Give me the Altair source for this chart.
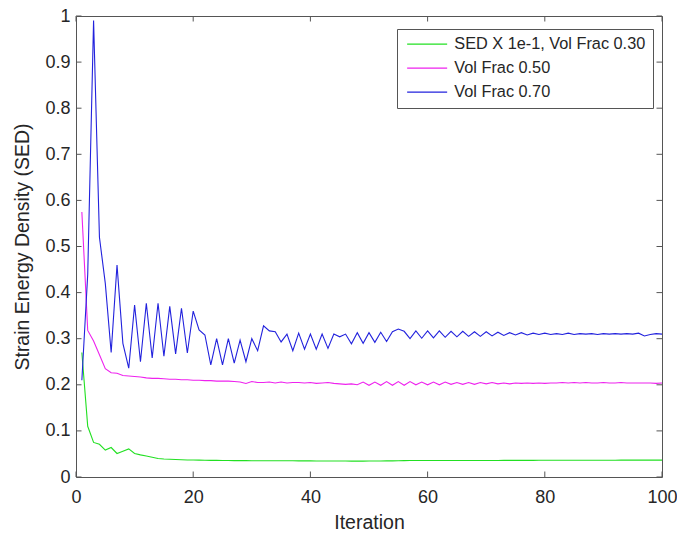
import altair as alt
import pandas as pd

iterations = list(range(1, 101))

sed_vf030 = [
    0.27, 0.11, 0.075, 0.071, 0.0585, 0.064, 0.051, 0.056, 0.061, 0.051,
    0.048, 0.0455, 0.043, 0.040, 0.039, 0.0385, 0.038, 0.0375, 0.037, 0.0368,
    0.0365, 0.0362, 0.036, 0.036, 0.0358, 0.0357, 0.0356, 0.0355, 0.0355, 0.0354,
    0.0354, 0.0353, 0.0353, 0.0352, 0.0352, 0.0351, 0.0351, 0.035, 0.035, 0.0349,
    0.0348, 0.0347, 0.0347, 0.0346, 0.0346, 0.0346, 0.0345, 0.0345, 0.0345, 0.0346,
    0.0347, 0.0348, 0.0349, 0.035, 0.0353, 0.0356, 0.0357, 0.0357, 0.0357, 0.0357,
    0.0357, 0.0357, 0.0358, 0.0358, 0.0358, 0.0358, 0.0358, 0.0358, 0.0358, 0.0359,
    0.0359, 0.0359, 0.036, 0.036, 0.036, 0.0361, 0.0361, 0.0361, 0.0362, 0.0362,
    0.0362, 0.0362, 0.0362, 0.0363, 0.0363, 0.0363, 0.0363, 0.0364, 0.0364, 0.0364,
    0.0364, 0.0364, 0.0365, 0.0365, 0.0365, 0.0365, 0.0366, 0.0366, 0.0366, 0.0366,
]

vf050 = [
    0.575, 0.318, 0.295, 0.265, 0.235, 0.226, 0.225, 0.220, 0.219, 0.218,
    0.217, 0.215, 0.214, 0.214, 0.213, 0.212, 0.212, 0.211, 0.211, 0.210,
    0.210, 0.209, 0.209, 0.208, 0.208, 0.208, 0.207, 0.206, 0.203, 0.207,
    0.205, 0.205, 0.206, 0.204, 0.206, 0.204, 0.205, 0.205, 0.204, 0.205,
    0.203, 0.204, 0.205, 0.203, 0.202, 0.201, 0.202, 0.200, 0.206, 0.199,
    0.206, 0.199, 0.207, 0.199, 0.207, 0.199, 0.207, 0.200, 0.206, 0.200,
    0.206, 0.200, 0.206, 0.201, 0.205, 0.201, 0.205, 0.201, 0.205, 0.202,
    0.205, 0.202, 0.204, 0.202, 0.204, 0.203, 0.204, 0.203, 0.204, 0.203,
    0.204, 0.204, 0.205, 0.204, 0.205, 0.204, 0.205, 0.204, 0.204, 0.205,
    0.204, 0.204, 0.205, 0.204, 0.204, 0.204, 0.204, 0.204, 0.203, 0.204,
]

vf070 = [
    0.21, 0.44, 0.99, 0.52, 0.42, 0.27, 0.46, 0.29, 0.236, 0.373,
    0.25, 0.377, 0.258, 0.377, 0.262, 0.37, 0.267, 0.366, 0.269, 0.36,
    0.319, 0.308, 0.243, 0.30, 0.243, 0.30, 0.247, 0.297, 0.25, 0.30,
    0.274, 0.328, 0.317, 0.315, 0.293, 0.31, 0.274, 0.312, 0.277, 0.31,
    0.277, 0.31, 0.279, 0.31, 0.304, 0.31, 0.289, 0.313, 0.29, 0.313,
    0.292, 0.314, 0.294, 0.315, 0.321, 0.316, 0.300, 0.317, 0.301, 0.317,
    0.302, 0.317, 0.303, 0.316, 0.304, 0.316, 0.305, 0.315, 0.305, 0.315,
    0.306, 0.314, 0.307, 0.313, 0.308, 0.313, 0.308, 0.312, 0.309, 0.312,
    0.309, 0.311, 0.309, 0.312, 0.309, 0.311, 0.310, 0.311, 0.309, 0.311,
    0.310, 0.311, 0.310, 0.311, 0.310, 0.312, 0.306, 0.309, 0.311, 0.310,
]

series_names = ["SED X 1e-1, Vol Frac 0.30", "Vol Frac 0.50", "Vol Frac 0.70"]
series_colors = ["#22e022", "#ee22ee", "#2222dd"]
x_ticks = [0, 20, 40, 60, 80, 100]
y_ticks = [0, 0.1, 0.2, 0.3, 0.4, 0.5, 0.6, 0.7, 0.8, 0.9, 1]

W, H = 586, 461
TICK = 5.5
FONT = "Liberation Sans"
TXT = "#262626"
AX = "#555555"

rows = []
for k, (name, vals) in enumerate(zip(series_names, [sed_vf030, vf050, vf070])):
    for it, v in zip(iterations, vals):
        rows.append({"Iteration": it, "value": v, "series": name, "order": k})
df = pd.DataFrame(rows)

xscale = alt.Scale(domain=[0, 100], nice=False, zero=False)
yscale = alt.Scale(domain=[0, 1], nice=False, zero=False)
XT = "Iteration"
YT = "Strain Energy Density (SED)"


def xaxis():
    return alt.Axis(values=x_ticks, format="d", labelPadding=11, titleY=45,
                    titleBaseline="middle", title=XT, labelFlush=False,
                    labelOverlap=False, labelBound=False)


def yaxis():
    return alt.Axis(values=y_ticks, format="~g", labelPadding=6, titleX=-54,
                    titleY=H / 2, titleBaseline="middle", titleAlign="center",
                    title=YT, labelFlush=False, labelOverlap=False, labelBound=False)


lines = alt.Chart(df).mark_line(strokeWidth=1.1).encode(
    x=alt.X("Iteration:Q", scale=xscale, axis=xaxis(), title=XT),
    y=alt.Y("value:Q", scale=yscale, axis=yaxis(), title=YT),
    color=alt.Color(
        "series:N",
        scale=alt.Scale(domain=series_names, range=series_colors),
        legend=alt.Legend(
            orient="none", legendX=321, legendY=13, title=None,
            symbolType="M-1,0H7", symbolSize=100, symbolStrokeWidth=1.2,
            labelFont=FONT, labelFontSize=16.3, labelColor=TXT, labelLimit=0,
            strokeColor=AX, fillColor="white", padding=7, rowPadding=7,
            labelOffset=34, labelExpr="datum.label + '  '",
        ),
    ),
    order=alt.Order("order:Q"),
)

ydf = pd.DataFrame({"t": y_ticks})
xdf = pd.DataFrame({"t": x_ticks})

yt_left = alt.Chart(ydf).mark_rule(color=AX, strokeWidth=1).encode(
    y=alt.Y("t:Q", scale=yscale, axis=yaxis(), title=YT),
    x=alt.value(0), x2=alt.value(TICK))
yt_right = alt.Chart(ydf).mark_rule(color=AX, strokeWidth=1).encode(
    y=alt.Y("t:Q", scale=yscale, axis=yaxis(), title=YT),
    x=alt.value(W - TICK), x2=alt.value(W))
xt_bottom = alt.Chart(xdf).mark_rule(color=AX, strokeWidth=1).encode(
    x=alt.X("t:Q", scale=xscale, axis=xaxis(), title=XT),
    y=alt.value(H - TICK), y2=alt.value(H))
xt_top = alt.Chart(xdf).mark_rule(color=AX, strokeWidth=1).encode(
    x=alt.X("t:Q", scale=xscale, axis=xaxis(), title=XT),
    y=alt.value(0), y2=alt.value(TICK))

chart = alt.layer(lines, yt_left, yt_right, xt_bottom, xt_top).properties(
    width=W, height=H,
    padding={"left": 76, "top": 16, "right": 15, "bottom": 61},
    autosize=alt.AutoSizeParams(type="none"),
    background="white",
).configure_view(
    stroke=AX, strokeWidth=1,
).configure_axis(
    domain=False, ticks=False, tickSize=0, grid=False,
    labelFont=FONT, labelFontSize=18, labelColor=TXT,
    titleFont=FONT, titleFontSize=19.5, titleFontWeight="normal", titleColor=TXT,
)

chart.save("out.html", embed_options={"renderer": "svg", "actions": False})
